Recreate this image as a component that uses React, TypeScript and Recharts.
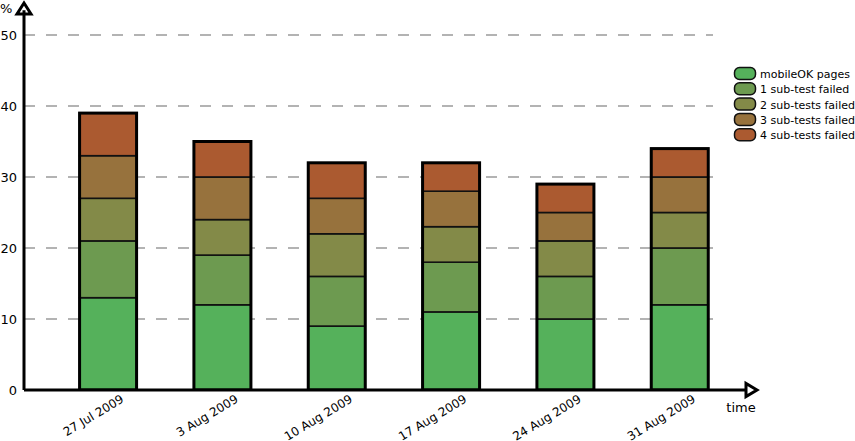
import React from 'react';
import { BarChart, Bar, XAxis, YAxis, CartesianGrid, Legend, Customized } from 'recharts';

const categories = ['27 Jul 2009', '3 Aug 2009', '10 Aug 2009', '17 Aug 2009', '24 Aug 2009', '31 Aug 2009'];
const mobileOK = [13, 12, 9, 11, 10, 12];
const failed1 = [8, 7, 7, 7, 6, 8];
const failed2 = [6, 5, 6, 5, 5, 5];
const failed3 = [6, 6, 5, 5, 4, 5];
const failed4 = [6, 5, 5, 4, 4, 4];
const yTicks = [0, 10, 20, 30, 40, 50];

const seriesNames = ['mobileOK pages', '1 sub-test failed', '2 sub-tests failed', '3 sub-tests failed', '4 sub-tests failed'];
const seriesKeys = ['ok', 'f1', 'f2', 'f3', 'f4'];
const seriesColors = ['#55b15b', '#6d9a50', '#838a48', '#97723d', '#ab5a30'];

const data = categories.map((c, i) => ({
  name: c,
  ok: mobileOK[i],
  f1: failed1[i],
  f2: failed2[i],
  f3: failed3[i],
  f4: failed4[i],
}));

const FONT = 'DejaVu Sans, sans-serif';

const SegShape = (props: any) => {
  const { x, y, width, height, fill } = props;
  return <rect x={x} y={y} width={width} height={height} fill={fill} stroke="#111" strokeWidth={1.6} />;
};

const TopShape = (props: any) => {
  const { x, y, width, height, fill, payload } = props;
  const total = payload.ok + payload.f1 + payload.f2 + payload.f3 + payload.f4;
  const unit = height / payload.f4;
  const totalH = total * unit;
  return (
    <g>
      <rect x={x} y={y} width={width} height={height} fill={fill} stroke="#111" strokeWidth={1.6} />
      <rect x={x} y={y} width={width} height={totalH} fill="none" stroke="#000" strokeWidth={3} />
    </g>
  );
};

const XTick = (props: any) => {
  const { x, y, payload } = props;
  return (
    <g transform={`translate(${x + 12},${y + 4})`}>
      <text transform="rotate(-31)" textAnchor="end" dy="0.72em" fontSize={12} fontFamily={FONT} fill="#000">
        {payload.value}
      </text>
    </g>
  );
};

const GridLine = (props: any) => {
  const { x1, y1, y2 } = props;
  if (Math.abs(y1 - 390) < 2 || y1 < 25) return <g />;
  return <line x1={x1} y1={y1} x2={713} y2={y2} stroke="#b3b3b3" strokeWidth={2} strokeDasharray="11 11" />;
};

const Decor = () => (
  <g>
    <polygon points="24,3 17,14 31,14" fill="#fff" stroke="#000" strokeWidth={3} strokeLinejoin="miter" />
    <polygon points="757,390 746,383.5 746,396.5" fill="#fff" stroke="#000" strokeWidth={3} strokeLinejoin="miter" />
    <text x={0} y={13} fontSize={13} fontFamily={FONT} fill="#000">%</text>
    <text x={741} y={412} fontSize={13} fontFamily={FONT} fill="#000" textAnchor="middle">time</text>
  </g>
);

const LegendContent = () => (
  <svg width={122} height={80} style={{ display: 'block' }}>
    {seriesNames.map((n, i) => (
      <g key={n} transform={`translate(0,${i * 15.3})`}>
        <rect x={1.5} y={1.5} width={21} height={12} rx={5} ry={5} fill={seriesColors[i]} stroke="#111" strokeWidth={1.5} />
        <text x={27} y={12} fontSize={11} fontFamily={FONT} fill="#000">{n}</text>
      </g>
    ))}
  </svg>
);

export default function App() {
  return (
    <div style={{ position: 'absolute', left: 0, top: 0, width: 855, height: 441, background: '#fff' }}>
      <BarChart
        width={855}
        height={441}
        data={data}
        margin={{ top: 10.15, right: 110, bottom: 0, left: 0 }}
        barCategoryGap="25%"
      >
        <CartesianGrid vertical={false} horizontal={GridLine as any} />
        <XAxis
          dataKey="name"
          height={51}
          tickLine={false}
          tickSize={0}
          tickMargin={0}
          axisLine={{ stroke: '#000', strokeWidth: 3 }}
          tick={<XTick />}
          padding={{ left: 27, right: 8 }}
          interval={0}
        />
        <YAxis
          type="number"
          domain={[0, 53.5]}
          allowDataOverflow
          ticks={yTicks}
          width={24}
          tickLine={false}
          tickSize={0}
          tickMargin={7}
          axisLine={{ stroke: '#000', strokeWidth: 3 }}
          tick={{ fontSize: 13, fontFamily: FONT, fill: '#000' }}
        />
        <Legend
          layout="vertical"
          align="center"
          verticalAlign="middle"
          content={<LegendContent />}
          wrapperStyle={{ left: 733, top: 66, width: 122, height: 80 }}
        />
        {seriesKeys.map((k, i) => (
          <Bar
            key={k}
            dataKey={k}
            name={seriesNames[i]}
            stackId="a"
            fill={seriesColors[i]}
            isAnimationActive={false}
            shape={i === seriesKeys.length - 1 ? <TopShape /> : <SegShape />}
          />
        ))}
        <Customized component={<Decor />} />
      </BarChart>
    </div>
  );
}
